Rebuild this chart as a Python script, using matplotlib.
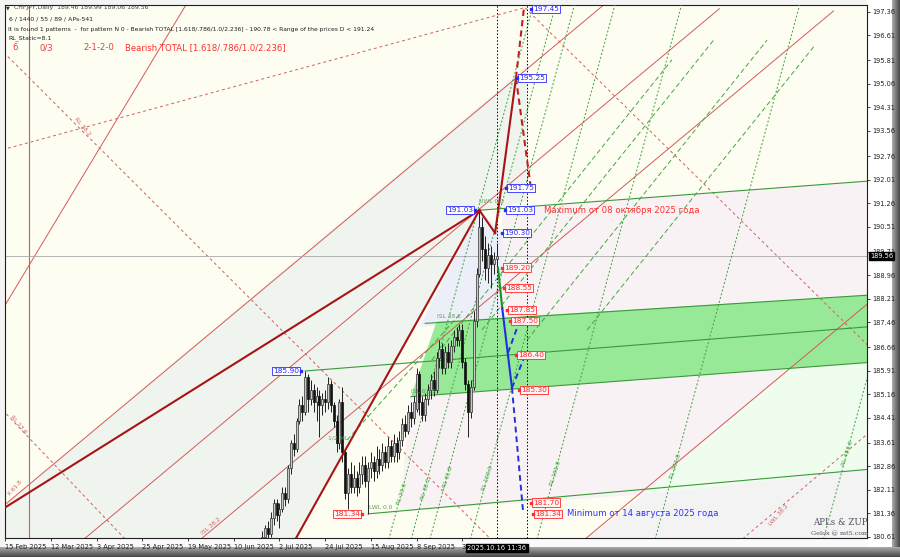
import numpy as np
import matplotlib.pyplot as plt
from matplotlib.patches import Polygon, Rectangle

# ---- candles (bar index 0 = 15 Feb 2025) ----
first_bar = 90
opens = [180.3, 180.6, 180.9, 180.7, 181.2, 181.7, 181.3, 181.5, 182.0, 181.8,
         182.8, 183.6, 183.4, 184.3, 184.8, 184.6, 185.7, 185.0, 185.3, 184.9,
         185.1, 184.8, 185.0, 184.9, 185.5, 184.8, 184.3, 183.6, 184.9, 183.3,
         182.0, 182.6, 182.2, 182.5, 182.2, 182.6, 182.9, 182.4, 182.8, 183.0,
         182.7, 183.1, 182.9, 183.3, 183.0, 183.5, 183.2, 183.6, 183.3, 183.7,
         184.2, 184.0, 184.6, 184.4, 184.7, 185.8, 184.9, 184.5, 185.0, 185.3,
         185.6, 185.3, 186.3, 186.6, 186.0, 186.5, 186.2, 186.7, 187.0, 186.9,
         187.2, 186.2, 185.5, 184.6, 185.4, 187.5, 189.0, 190.5, 189.8, 189.2,
         189.6, 189.3, 189.46]
highs = [180.8, 181.0, 181.1, 181.4, 181.8, 181.8, 181.7, 182.2, 182.2, 182.9,
         183.7, 183.9, 184.4, 185.0, 185.1, 185.9, 185.8, 185.6, 185.5, 185.4,
         185.3, 185.2, 185.3, 185.7, 185.6, 184.9, 184.5, 185.0, 185.4, 183.4,
         182.8, 183.0, 182.9, 182.7, 183.0, 183.2, 183.2, 183.0, 183.3, 183.2,
         183.5, 183.4, 183.6, 183.5, 183.8, 183.7, 183.9, 183.8, 184.0, 184.4,
         184.5, 184.8, 184.9, 185.1, 186.0, 185.9, 185.1, 185.2, 185.5, 185.8,
         185.9, 186.5, 186.9, 186.8, 186.7, 186.8, 186.9, 187.2, 187.3, 187.4,
         187.4, 186.3, 185.6, 185.6, 187.8, 189.2, 191.03, 190.8, 190.2, 190.0,
         189.9, 189.7, 189.99]
lows = [180.1, 180.4, 180.5, 180.6, 181.0, 181.1, 180.9, 181.4, 181.6, 181.7,
        182.6, 183.2, 183.3, 184.2, 184.3, 184.5, 184.6, 184.8, 184.6, 184.3,
        183.8, 184.5, 184.6, 184.7, 184.6, 184.1, 183.3, 183.4, 183.0, 181.8,
        181.5, 182.0, 182.0, 181.9, 182.0, 182.3, 182.2, 181.34, 182.5, 182.4,
        182.5, 182.6, 182.7, 182.8, 182.8, 183.0, 183.0, 183.0, 183.1, 183.5,
        183.8, 183.9, 184.1, 184.2, 184.6, 184.5, 184.3, 184.3, 184.8, 185.0,
        185.1, 185.2, 186.0, 185.8, 185.8, 186.0, 186.0, 186.5, 186.7, 186.7,
        186.0, 185.3, 183.8, 184.4, 185.3, 187.3, 188.9, 189.4, 188.8, 188.7,
        188.55, 189.0, 189.06]
closes = [180.6, 180.9, 180.7, 181.2, 181.7, 181.3, 181.5, 182.0, 181.8, 182.8,
          183.6, 183.4, 184.3, 184.8, 184.6, 185.7, 185.0, 185.3, 184.9, 185.1,
          184.8, 185.0, 184.9, 185.5, 184.8, 184.3, 183.6, 184.9, 183.3, 182.0,
          182.6, 182.2, 182.5, 182.2, 182.6, 182.9, 182.4, 182.8, 183.0, 182.7,
          183.1, 182.9, 183.3, 183.0, 183.5, 183.2, 183.6, 183.3, 183.7, 184.2,
          184.0, 184.6, 184.4, 184.9, 185.8, 184.9, 184.5, 185.0, 185.3, 185.6,
          185.3, 186.3, 186.6, 186.0, 186.5, 186.2, 186.7, 187.0, 186.9, 187.2,
          186.2, 185.5, 184.6, 185.4, 187.5, 189.0, 190.5, 189.8, 189.2, 189.6,
          189.3, 189.46, 189.56]

date_ticks = [0, 16, 32, 48, 64, 80, 96, 112, 128, 144, 160]
date_labels = ["15 Feb 2025", "12 Mar 2025", "3 Apr 2025", "25 Apr 2025", "19 May 2025",
               "10 Jun 2025", "2 Jul 2025", "24 Jul 2025", "15 Aug 2025", "8 Sep 2025",
               "30 Sep 2025"]
price_ticks = [197.36, 196.61, 195.81, 195.06, 194.31, 193.56, 192.76, 192.01, 191.26,
               190.51, 189.71, 188.96, 188.21, 187.46, 186.66, 185.91, 185.16, 184.41,
               183.61, 182.86, 182.11, 181.36, 180.61]
last_price = 189.56

# ---- drawn objects, in (bar, price) ----
thick_red = [((-1, 181.49), (166, 191.03)), ((96, 179.62), (166, 191.03)),
             ((166, 191.03), (171.5, 190.30)), ((171.5, 190.30), (178.8, 195.25))]
thick_red_dash = [((178.8, 195.25), (181.6, 197.49)), ((178.8, 195.25), (184.0, 191.75))]
thin_red = [((-2, 181.49), (210, 197.62)), ((20, 179.96), (250, 197.46)),
            ((60, 179.89), (290, 197.39)), ((195, 179.93), (310, 188.66)),
            ((-1, 187.86), (66, 198.0))]
red_dash = [((-1, 184.66), (60, 178.8)), ((-2, 196.2), (200, 177.8)),
            ((182, 197.49), (310, 186.0)), ((-1, 192.96), (181.6, 197.49)),
            ((255, 180.3), (302, 183.9))]
red_vline = 8.3
red_tags = [(4.5, 184.2, "RL 23.6", -50), (3.5, 182.15, "X 61.8", 48),
            (27.0, 193.7, "RL 38.2", -50), (72.0, 180.95, "ISL 38.2", 40),
            (271.0, 181.3, "LWL 38.2", 48)]

green_lines = [((166, 191.03), (302, 191.96)), ((105, 185.90), (302, 187.31)),
               ((127, 181.34), (302, 182.76)), ((147, 187.42), (302, 188.32)),
               ((142, 185.08), (302, 186.17))]
green_zone = [(142, 185.08), (151, 187.47), (302, 188.32), (302, 186.17)]
green_dash = [((166.9, 187.21), (248.1, 196.47)), ((182.7, 186.89), (266.7, 196.46)),
              ((203.7, 187.21), (283.5, 196.30)), ((149.4, 186.25), (233.4, 195.83)),
              ((119.7, 183.70), (160.0, 187.80))]
green_steep = [(138, 181.79), (146.3, 181.95), (154, 182.33), (168, 182.27),
               (191.8, 182.43), (233.8, 182.65), (294, 183.07)]
steep_slope = 0.337
rl_names = ["RL 23.6", "RL 38.2", "RL 61.8", "RL 100.0", "RL 161.8", "RL 261.8", "RL 423.6"]

green_path = [(172.5, 189.20), (174.0, 187.90)]
blue_path = [(174.0, 187.90), (177.4, 185.36)]
blue_dash = [((177.4, 185.36), (181.3, 181.40)), ((176.0, 186.48), (180.2, 187.53)),
             ((177.4, 185.36), (182.0, 186.41))]

blue_boxes = [(184.8, 197.45, "197.45"), (179.9, 195.25, "195.25"), (176.0, 191.75, "191.75"),
              (175.6, 191.03, "191.03"), (174.6, 190.30, "190.30")]
red_boxes = [(174.6, 189.20, "189.20"), (175.3, 188.55, "188.55"), (176.4, 187.85, "187.85"),
             (177.4, 187.50, "187.50"), (179.5, 186.40, "186.40"), (180.6, 185.30, "185.30"),
             (184.8, 181.70, "181.70"), (185.5, 181.34, "181.34")]
left_boxes = [(163.8, 191.03, "191.03", "blue"), (102.8, 185.90, "185.90", "blue"),
              (124.2, 181.34, "181.34", "red")]
vdots = [172.1, 182.8]

# pale zones
zone_greygreen = [(-1, 181.57), (183, 195.66), (183, 191.30), (166, 191.03), (96, 179.62),
                  (-1, 179.62)]
zone_pink = [[(174, 191.08), (302, 191.96), (302, 188.32), (174, 187.58)],
             [(142, 185.08), (274.4, 186.0), (223.7, 181.96), (138, 181.43)]]
zone_lightgreen = [(223.7, 181.96), (274.4, 186.0), (302, 186.17), (302, 182.76)]
zone_grey = [(195.8, 180.0), (223.7, 181.96), (302, 182.76), (302, 180.0)]
zone_lavender = [(145, 187.3), (166, 191.03), (174, 190.3), (174, 187.58)]

W, H = 900, 557
fig = plt.figure(figsize=(9, 5.57), dpi=100)
fig.patch.set_facecolor("#f4f4f4")

# 3D-ish frame gradients
bg = fig.add_axes([0, 0, 1, 1], zorder=-5)
bg.axis("off")
grad = np.linspace(0, 1, 40)
bg.imshow(np.outer(grad, np.ones(2)), extent=[0, 1, 0, 10 / H], cmap="Greys", vmin=-1.2, vmax=1.6,
          aspect="auto")
bg.imshow(np.outer(np.ones(2), grad), extent=[(W - 8) / W, 1, 10 / H, 1], cmap="Greys",
          vmin=-1.2, vmax=1.6, aspect="auto")
bg.add_patch(Rectangle((867 / W, 10 / H), 25 / W, 1 - 10 / H, color="white", zorder=-1))
bg.add_patch(Rectangle((5 / W, 10 / H), 862 / W, 9 / H, color="#fafafa", zorder=-1))
bg.set_xlim(0, 1)
bg.set_ylim(0, 1)

ax = fig.add_axes([5 / W, 1 - 538 / H, 862 / W, 533 / H])
ax.set_facecolor("#fdfdf1")
ax.set_xlim(-0.1, 301.7)
ax.set_ylim(180.57, 197.58)

ax.add_patch(Polygon(zone_greygreen, closed=True, fc="#f0f4ee", ec="none", zorder=0))
for pz in zone_pink:
    ax.add_patch(Polygon(pz, closed=True, fc="#f9f2f4", ec="none", zorder=0))
ax.add_patch(Polygon(zone_lightgreen, closed=True, fc="#effdef", ec="none", zorder=0))
ax.add_patch(Polygon(zone_grey, closed=True, fc="#f3f3f3", ec="none", zorder=0))
ax.add_patch(Polygon(zone_lavender, closed=True, fc="#eceff8", ec="none", zorder=0))
ax.add_patch(Polygon(green_zone, closed=True, fc="#97e897", ec="none", zorder=1))

for (a, b) in thin_red:
    ax.plot([a[0], b[0]], [a[1], b[1]], color="#d45a5a", lw=0.7, zorder=2)
for (a, b) in red_dash:
    ax.plot([a[0], b[0]], [a[1], b[1]], color="#d06060", lw=0.7, ls=(0, (3, 3)), zorder=2)
ax.axvline(red_vline, color="#d45a5a", lw=0.8, zorder=2)
for (x, y, s, r) in red_tags:
    ax.text(x, y, s, color="#d06060", fontsize=4.2, rotation=r, ha="center", va="center",
            zorder=4)

for (a, b) in green_lines:
    ax.plot([a[0], b[0]], [a[1], b[1]], color="#3a9a3a", lw=0.8, zorder=3)
for (a, b) in green_dash:
    ax.plot([a[0], b[0]], [a[1], b[1]], color="#40a840", lw=0.7, ls=(0, (5, 3)), zorder=3)
for (x0, y0), name in zip(green_steep, rl_names):
    xs = np.array([x0 - 10, x0 + 60])
    ax.plot(xs, y0 + steep_slope * (xs - x0), color="#3aa03a", lw=0.7, ls=(0, (2, 2)), zorder=3)
    ax.text(x0 + 1, y0 + 0.2, name, color="#3aa03a", fontsize=4.2, rotation=72,
            ha="center", va="center", zorder=4)

# current price line
ax.axhline(last_price, color="#a8a8a8", lw=0.6, zorder=2)
for v in vdots:
    ax.axvline(v, color="black", lw=0.7, ls=(0, (1.5, 2)), zorder=3)

# candles
xs = np.arange(first_bar, first_bar + len(opens))
o = np.array(opens); c = np.array(closes)
ax.vlines(xs, lows, highs, color="#202020", lw=0.7, zorder=5)
up = c >= o
ax.bar(xs[up], np.abs(c - o)[up], bottom=np.minimum(o, c)[up], width=0.7,
       color="#c8c8c8", edgecolor="#303030", lw=0.5, zorder=6)
ax.bar(xs[~up], np.abs(c - o)[~up], bottom=np.minimum(o, c)[~up], width=0.7,
       color="#101010", edgecolor="#101010", lw=0.5, zorder=6)

for (a, b) in thick_red:
    ax.plot([a[0], b[0]], [a[1], b[1]], color="#a81414", lw=1.5, zorder=7)
for (a, b) in thick_red_dash:
    ax.plot([a[0], b[0]], [a[1], b[1]], color="#c02020", lw=1.5, ls=(0, (3, 2)), zorder=7)
ax.plot(*zip(*green_path), color="#209020", lw=1.5, zorder=7)
ax.plot(*zip(*blue_path), color="#2030e0", lw=1.5, zorder=7)
for (a, b) in blue_dash:
    ax.plot([a[0], b[0]], [a[1], b[1]], color="#2030e0", lw=1.4, ls=(0, (3, 2)), zorder=7)

# price boxes
def box(x, y, s, col, ha="left"):
    fc = "#ffffff" if col == "blue" else "#fff2f2"
    tc = "#2a2aff" if col == "blue" else "#ff2a2a"
    ax.text(x, y, s, color=tc, fontsize=5.4, ha=ha, va="center", zorder=9,
            bbox=dict(boxstyle="square,pad=0.15", fc=fc, ec=tc, lw=0.6))
    mx = x - 0.7 if ha == "left" else x + 0.7
    ax.plot([mx], [y], marker="s", ms=1.6, color=tc, zorder=9)

for (x, y, s) in blue_boxes:
    box(x, y, s, "blue")
for (x, y, s) in red_boxes:
    box(x, y, s, "red")
for (x, y, s, col) in left_boxes:
    box(x, y, s, col, ha="right")

ax.text(188.5, 191.03, "Maximum от 08 октября 2025 года", color="#ff3030", fontsize=6.1,
        va="center", zorder=9)
ax.text(196.5, 181.34, "Minimum от 14 августа 2025 года", color="#3030ff", fontsize=6.1,
        va="center", zorder=9)
ax.text(166, 191.25, "UWL 0.0", color="#60a060", fontsize=4.3, zorder=9)
ax.text(151, 187.6, "ISL 38.2", color="#60a060", fontsize=4.3, zorder=9)
ax.text(142, 185.2, "ISL 61.8", color="#60a060", fontsize=4.3, zorder=9)
ax.text(113, 183.7, "1/2 ML", color="#60a060", fontsize=4.3, zorder=9)
ax.text(127.5, 181.5, "LWL 0.0", color="#60a060", fontsize=4.3, zorder=9)

ax.text(302, 181.05, "APLs & ZUP", family="DejaVu Serif", color="#505060", fontsize=6.2,
        ha="right", va="center", zorder=9)
ax.text(302, 180.72, "Gelox @ mt5.com", family="DejaVu Serif", color="#505060", fontsize=4.6,
        ha="right", va="center", zorder=9)

# axes styling
for s in ax.spines.values():
    s.set_color("#202020")
    s.set_linewidth(0.8)
ax.yaxis.tick_right()
ax.set_yticks(price_ticks)
ax.set_yticklabels([f"{v:.2f}" for v in price_ticks])
ax.set_xticks(date_ticks)
ax.set_xticklabels(date_labels, ha="left")
ax.tick_params(axis="both", labelsize=4.8, length=2.5, width=0.6, color="#202020",
               labelcolor="#202020", pad=1.5)

ax.text(302.8, last_price, f"{last_price:.2f}", color="white", fontsize=4.8, va="center",
        ha="left", zorder=10, clip_on=False,
        bbox=dict(boxstyle="square,pad=0.15", fc="black", ec="black"))
ax.text(172.1, 180.25, "2025.10.16 11:36", color="white", fontsize=4.8, va="center",
        ha="center", zorder=10, clip_on=False,
        bbox=dict(boxstyle="square,pad=0.2", fc="black", ec="black"))

# header
def hdr(x, y, s, **kw):
    fig.text(x / W, 1 - y / H, s, va="center", ha="left", **kw)

hdr(6, 8, "▼", fontsize=3.5, color="#303030")
hdr(14, 8, "CHFJPY,Daily  189.46 189.99 189.06 189.56", fontsize=4.4, color="#404040")
hdr(9, 19, "6 / 1440 / 55 / 89 / APs-541", fontsize=4.4, color="#202020")
hdr(8, 29, "It is found 1 patterns  -  for pattern N 0 - Bearish TOTAL [1.618/.786/1.0/2.236] - "
    "190.78 < Range of the prices D < 191.24", fontsize=4.3, color="#202020")
hdr(8, 38, "RL_Static=8.1", fontsize=4.4, color="#202020")
hdr(12, 48, "6", fontsize=6.1, color="#e04040")
hdr(40, 48, "0/3", fontsize=6.1, color="#e04040")
hdr(83, 48, "2-1-2-0", fontsize=6.1, color="#e04040")
hdr(125, 48, "Bearish TOTAL [1.618/.786/1.0/2.236]", fontsize=6.1, color="#ff3030")

fig.savefig("out.png", dpi=100)
